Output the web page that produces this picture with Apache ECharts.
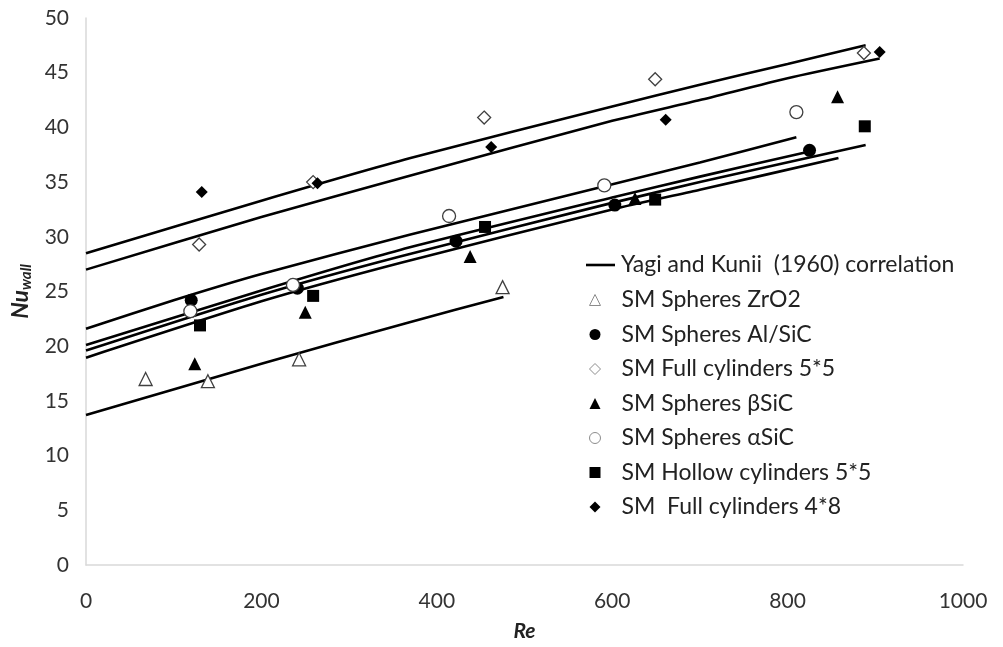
<!DOCTYPE html>
<html>
<head>
<meta charset="utf-8">
<script src="https://cdn.jsdelivr.net/npm/echarts@6/dist/echarts.min.js"></script>
<style>html,body{margin:0;padding:0;background:#fff}#c{width:1003px;height:647px}</style>
</head>
<body>
<div id="c"></div>
<script>
// ---- data ----
const corrName = 'Yagi and Kunii  (1960) correlation';
// correlation curves (Re, Nu_wall)
const corrFull55   = [[0,28.5],[200,33.3],[370,37.2],[600,41.9],[700,43.9],[800,45.8],[889,47.5]];
const corrFull48   = [[0,27.0],[200,31.8],[365,35.5],[600,40.6],[700,42.5],[800,44.5],[905,46.3]];
const corrAlpha    = [[0,21.6],[100,24.2],[200,26.6],[370,30.2],[590,34.6],[700,36.8],[810,39.1]];
const corrAlSiC    = [[0,20.1],[200,25.1],[358,28.8],[600,33.6],[700,35.5],[825,37.8]];
const corrHollow   = [[0,19.6],[200,24.7],[358,28.2],[600,33.1],[700,35.0],[889,38.4]];
const corrBeta     = [[0,18.95],[200,24.1],[358,27.6],[600,32.5],[700,34.3],[858,37.2]];
const corrZrO2     = [[0,13.7],[200,18.4],[369,22.2],[476,24.5]];
// measured points
const ptsZrO2   = [[68,17.0],[139,16.8],[243,18.8],[475,25.4]];
const ptsAlSiC  = [[120,24.2],[241,25.3],[422,29.6],[603,32.9],[825,37.9]];
const ptsFull55 = [[129,29.3],[259,35.0],[454,40.9],[649,44.4],[887,46.8]];
const ptsBeta   = [[124,18.4],[250,23.1],[438,28.2],[626,33.5],[857,42.8]];
const ptsAlpha  = [[119,23.2],[236,25.6],[414,31.9],[591,34.7],[810,41.4]];
const ptsHollow = [[130,21.9],[259,24.6],[455,30.9],[649,33.4],[888,40.1]];
const ptsFull48 = [[132,34.1],[264,34.9],[462,38.2],[661,40.7],[905,46.9]];
const xTicks = [0, 200, 400, 600, 800, 1000];
const yTicks = [0, 5, 10, 15, 20, 25, 30, 35, 40, 45, 50];

const FONT = 'Lato';
const lineSeries = [corrFull55, corrFull48, corrAlpha, corrAlSiC, corrHollow, corrBeta, corrZrO2].map(d => ({
  name: corrName, type: 'line', data: d, symbol: 'none', showSymbol: false, smooth: 0.2,
  lineStyle: {color: '#000', width: 2.6}, itemStyle: {color: '#000'}, z: 2, silent: true
}));
const openStyle = {color: '#fff', borderColor: '#404040', borderWidth: 1.3, opacity: 1};
const fillStyle = {color: '#000', borderColor: '#000', borderWidth: 0, opacity: 1};
const scat = [
  {name: 'SM Spheres ZrO2', data: ptsZrO2, symbol: 'triangle', symbolSize: 13, itemStyle: openStyle},
  {name: 'SM Spheres Al/SiC', data: ptsAlSiC, symbol: 'circle', symbolSize: 13, itemStyle: fillStyle},
  {name: 'SM Full cylinders 5*5', data: ptsFull55, symbol: 'diamond', symbolSize: 13, itemStyle: openStyle},
  {name: 'SM Spheres βSiC', data: ptsBeta, symbol: 'triangle', symbolSize: 13, itemStyle: fillStyle},
  {name: 'SM Spheres αSiC', data: ptsAlpha, symbol: 'circle', symbolSize: 13, itemStyle: openStyle},
  {name: 'SM Hollow cylinders 5*5', data: ptsHollow, symbol: 'rect', symbolSize: 12, itemStyle: fillStyle},
  {name: 'SM  Full cylinders 4*8', data: ptsFull48, symbol: 'diamond', symbolSize: 12, itemStyle: fillStyle}
].map(s => Object.assign({type: 'scatter', z: 3, silent: true}, s));

const openNames = ['SM Spheres ZrO2', 'SM Full cylinders 5*5', 'SM Spheres αSiC'];
const chart = echarts.init(document.getElementById('c'), null, {renderer: 'canvas'});
chart.setOption({
  animation: false,
  textStyle: {fontFamily: FONT},
  grid: {left: 86, right: 40, top: 18, bottom: 82, containLabel: false},
  xAxis: {
    type: 'value', min: xTicks[0], max: xTicks[xTicks.length - 1], interval: 200,
    name: 'Re', nameLocation: 'middle', nameGap: 56,
    nameTextStyle: {fontFamily: FONT, fontSize: 21, fontWeight: 'bold', fontStyle: 'italic', color: '#222'},
    axisLine: {show: true, lineStyle: {color: '#d9d9d9', width: 1.5}},
    axisTick: {show: false}, splitLine: {show: false},
    axisLabel: {fontFamily: FONT, fontSize: 21, color: '#333', margin: 26, formatter: v => String(v)}
  },
  yAxis: {
    type: 'value', min: yTicks[0], max: yTicks[yTicks.length - 1], interval: 5,
    name: '{a|Nu}{b|wall}', nameLocation: 'middle', nameGap: 40, nameRotate: 90,
    nameTextStyle: {
      rich: {
        a: {fontFamily: FONT, fontSize: 23, fontWeight: 'bold', fontStyle: 'italic', color: '#222'},
        b: {fontFamily: FONT, fontSize: 15, fontWeight: 'bold', fontStyle: 'italic', color: '#222', padding: [11, 0, 0, 0]}
      }
    },
    axisLine: {show: true, lineStyle: {color: '#d9d9d9', width: 1.5}},
    axisTick: {show: false}, splitLine: {show: false},
    axisLabel: {fontFamily: FONT, fontSize: 21, color: '#333', margin: 17, formatter: v => String(v)}
  },
  legend: [
    {
      orient: 'vertical', left: 581, top: 248, itemWidth: 29, itemHeight: 2.6,
      data: [{name: corrName, icon: 'rect', itemStyle: {color: '#000', borderWidth: 0}}],
      textStyle: {fontFamily: FONT, fontSize: 23, lineHeight: 24, color: '#222', padding: [0, 0, 0, 1]},
      selectedMode: false
    },
    {
      orient: 'vertical', left: 584, top: 283, itemWidth: 11, itemHeight: 11, itemGap: 10.5,
      data: scat.map(s => openNames.includes(s.name)
        ? {name: s.name, icon: s.symbol, itemStyle: {color: '#fff', borderColor: '#8c8c8c', borderWidth: 1}}
        : {name: s.name, icon: s.symbol, itemStyle: {color: '#000', borderWidth: 0}}),
      textStyle: {fontFamily: FONT, fontSize: 23, lineHeight: 24, color: '#222', padding: [0, 0, 0, 16]},
      selectedMode: false
    }
  ],
  series: lineSeries.concat(scat)
});
</script>
</body>
</html>
